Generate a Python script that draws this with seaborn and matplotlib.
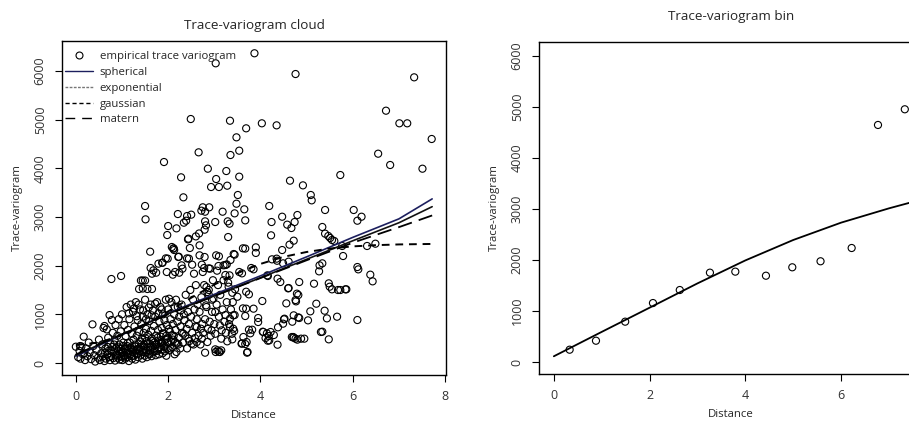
import numpy as np
import pandas as pd
import matplotlib
matplotlib.use("Agg")
import matplotlib.pyplot as plt
from matplotlib.lines import Line2D
import seaborn as sns

# ---- empirical trace-variogram cloud (distance, trace-variogram) ----
cloud_high = [
    (3.87, 6360), (3.03, 6154), (4.76, 5934), (7.33, 5866), (6.72, 5181), (7.01, 4922), (7.18, 4922), (7.71, 4600),
    (2.49, 5010), (3.34, 4975), (4.03, 4922), (4.35, 4880), (3.69, 4819), (3.48, 4634), (6.55, 4298), (2.66, 4326),
    (3.54, 4360), (3.35, 4271), (6.81, 4066), (7.51, 3990), (1.91, 4127), (2.86, 3990), (3.26, 3942), (2.28, 3813),
    (3.04, 3778), (3.54, 3826), (4.64, 3744), (4.92, 3648), (5.73, 3860), (2.93, 3614), (3.10, 3614), (3.28, 3641),
    (2.33, 3402), (3.51, 3450), (5.09, 3450), (5.11, 3340), (1.50, 3224), (2.75, 3197), (2.89, 3197), (3.48, 3271),
    (3.65, 3156), (4.19, 3224), (5.40, 3142), (6.02, 3142), (2.21, 3059), (2.41, 3018), (2.50, 3046), (2.72, 3128),
    (2.80, 3107), (3.18, 3107), (3.44, 3073), (4.47, 3004), (4.80, 3039), (6.19, 3004),
]
cloud_upper = [
    (1.51, 2950), (6.10, 2922), (2.34, 2881), (2.39, 2922), (2.00, 2813), (1.98, 2628), (2.18, 2765), (2.43, 2539),
    (2.12, 2355), (2.13, 2320), (1.61, 2286), (2.23, 2183), (2.41, 2149), (1.95, 2149), (1.87, 2060), (2.80, 2909),
    (2.82, 2827), (2.79, 2738), (2.60, 2600), (2.67, 2660), (2.68, 2416), (3.02, 2895), (3.29, 2909), (3.33, 2861),
    (3.30, 2587), (3.67, 2929), (4.23, 2622), (4.24, 2895), (4.58, 2841), (4.67, 2772), (4.74, 2895), (4.72, 2512),
    (4.63, 2430), (4.47, 2320), (5.34, 2793), (5.40, 2656), (5.47, 2608), (5.51, 2567), (5.55, 2526), (5.60, 2505),
    (5.77, 2403), (5.79, 2197), (6.31, 2403), (6.49, 2450), (3.62, 2355), (3.67, 2350), (3.90, 2375), (3.90, 2260),
    (3.42, 2238), (2.08, 2382), (2.11, 2348), (2.44, 2553), (2.47, 2362), (2.45, 2143), (2.22, 2177), (1.99, 2143),
    (2.68, 2211), (3.04, 2211), (3.44, 2225), (4.35, 2143), (4.25, 2129), (4.36, 2100), (4.49, 2047), (4.61, 2081),
    (5.34, 2047), (5.28, 2006), (3.10, 2190), (2.79, 2177), (3.24, 2012), (3.35, 2115), (1.79, 2040), (1.88, 2060),
    (2.29, 2006), (2.52, 2019), (2.73, 2019), (3.20, 2006), (3.27, 2025),
]
cloud_mid = [
    (6.10, 1971), (6.12, 1923), (6.38, 1814), (6.43, 1677), (1.62, 1951), (1.65, 1834), (1.68, 1903), (1.74, 1855),
    (1.97, 1869), (2.10, 1814), (2.15, 1869), (2.31, 1937), (2.24, 1855), (2.56, 1834), (2.78, 1951), (2.75, 1869),
    (2.91, 1937), (3.09, 1992), (3.33, 1800), (3.54, 1869), (3.80, 1951), (4.37, 1732), (4.43, 1663), (4.61, 1540),
    (4.84, 1663), (4.15, 1800), (4.77, 1266), (4.79, 1424), (4.04, 1273), (3.85, 1116), (3.69, 1116), (3.02, 1047),
    (2.98, 1321), (2.85, 1458), (2.82, 1184), (0.77, 1725), (0.98, 1787), (1.41, 1694), (1.45, 1694), (1.50, 1694),
    (1.37, 1520), (1.45, 1530), (1.55, 1520), (1.65, 1520), (2.88, 1944), (3.06, 1896), (3.24, 1807), (3.60, 1841),
    (3.85, 1924), (4.16, 1787), (4.60, 1533), (4.82, 1396), (4.76, 1293), (4.56, 1225), (3.75, 1410), (3.69, 1464),
    (3.45, 1513), (3.39, 1443), (3.50, 1361), (3.31, 1567), (2.83, 1560), (2.88, 1400), (2.95, 1300), (3.62, 1122),
    (5.48, 1636), (5.50, 1567), (5.55, 1513), (5.68, 1499), (5.73, 1499), (5.84, 1513), (5.39, 1074), (5.16, 1629),
    (5.27, 1882), (5.21, 1218), (5.08, 1061), (5.86, 1513),
]
cloud_low = [
    (4.72, 979), (4.84, 924), (3.95, 842), (3.67, 965), (3.41, 979), (3.34, 910), (3.24, 985), (3.44, 985), (3.95, 924),
    (5.44, 917), (5.66, 951), (6.10, 883), (5.34, 643), (5.48, 486), (5.03, 876), (5.31, 637),
    (4.68, 534), (4.71, 534), (4.76, 500), (4.88, 500), (4.95, 500), (4.52, 910), (4.49, 808), (4.37, 376), (4.06, 637),
    (4.11, 513), (4.18, 554), (4.22, 637), (4.19, 465), (3.82, 684), (3.75, 684), (3.70, 431), (3.72, 226), (3.59, 397),
    (3.63, 534), (3.41, 705), (3.43, 657), (3.34, 739), (3.39, 486), (3.28, 445), (3.12, 773), (3.16, 671), (3.07, 260),
    (3.12, 226), (3.03, 226), (2.85, 431), (2.73, 500), (2.62, 431), (2.58, 513), (2.94, 671), (2.71, 705), (2.62, 739),
    (2.44, 500), (2.51, 397), (2.33, 602), (2.15, 431), (2.08, 568), (2.18, 226), (2.04, 637), (1.97, 500), (1.86, 431),
    (4.05, 643), (4.14, 610), (4.29, 575), (4.16, 458), (4.38, 733), (4.51, 897), (4.69, 848), (4.82, 938), (4.72, 520),
    (4.80, 480), (3.60, 404), (3.67, 390), (3.71, 212), (3.02, 281), (3.10, 232), (3.15, 260), (2.80, 212), (3.78, 610),
]
cloud_dense = [
    (0.05, 120), (0.08, 250), (0.10, 90), (0.12, 340), (0.15, 180), (0.17, 541), (0.20, 60), (0.22, 300), (0.25, 140),
    (0.28, 420), (0.30, 220), (0.33, 80), (0.36, 794), (0.38, 350), (0.40, 160), (0.42, 30), (0.45, 270), (0.48, 110),
    (0.50, 480), (0.00, 335), (0.09, 349), (0.18, 200),
    (0.52, 60), (0.55, 200), (0.57, 380), (0.58, 130), (0.60, 720), (0.62, 760), (0.62, 40), (0.64, 300), (0.65, 90),
    (0.67, 691), (0.68, 180), (0.70, 520), (0.71, 250), (0.73, 985), (0.74, 60), (0.75, 400), (0.77, 140), (0.78, 883),
    (0.79, 330), (0.80, 620), (0.81, 100), (0.82, 220), (0.84, 460), (0.85, 50), (0.86, 780), (0.87, 170), (0.88, 300),
    (0.90, 560), (0.91, 110), (0.92, 240), (0.93, 900), (0.94, 380), (0.95, 70), (0.96, 190), (0.97, 650), (0.98, 290),
    (0.99, 130),
    (1.00, 1000), (1.01, 60), (1.02, 230), (1.03, 420), (1.04, 160), (1.05, 780), (1.06, 300), (1.07, 90), (1.08, 550),
    (1.09, 200), (1.10, 1150), (1.11, 350), (1.12, 120), (1.13, 680), (1.14, 260), (1.15, 40), (1.16, 900), (1.17, 420),
    (1.18, 180), (1.19, 1200), (1.20, 310), (1.21, 600), (1.22, 90), (1.23, 230), (1.24, 1050), (1.25, 480), (1.26, 150),
    (1.27, 750), (1.28, 340), (1.29, 70), (1.30, 1250), (1.31, 200), (1.32, 560), (1.33, 280), (1.34, 880), (1.35, 120),
    (1.36, 400), (1.37, 640), (1.38, 240), (1.39, 1100), (1.40, 330), (1.41, 170), (1.42, 800), (1.43, 500), (1.44, 90),
    (1.45, 950), (1.46, 270), (1.47, 620), (1.48, 380), (1.49, 150),
    (1.50, 1300), (1.51, 220), (1.52, 700), (1.53, 450), (1.54, 120), (1.55, 1000), (1.56, 320), (1.57, 580), (1.58, 190),
    (1.59, 860), (1.60, 400), (1.61, 260), (1.62, 1200), (1.63, 660), (1.64, 140), (1.65, 500), (1.66, 340), (1.67, 1080),
    (1.68, 220), (1.69, 760), (1.70, 420), (1.71, 300), (1.72, 950), (1.73, 160), (1.74, 560), (1.75, 380), (1.76, 1250),
    (1.77, 250), (1.78, 680), (1.79, 460), (1.80, 180), (1.81, 850), (1.82, 330), (1.83, 1150), (1.84, 540), (1.85, 280),
    (1.86, 720), (1.87, 400), (1.88, 200), (1.89, 1000), (1.90, 600), (1.91, 350), (1.92, 880), (1.93, 240), (1.94, 480),
    (1.95, 1300), (1.96, 150), (1.97, 780), (1.98, 420), (1.99, 300),
    (2.00, 1100), (2.02, 700), (2.03, 260), (2.05, 900), (2.06, 450), (2.07, 1250), (2.09, 330), (2.10, 800), (2.12, 560),
    (2.13, 1000), (2.14, 180), (2.16, 680), (2.17, 1300), (2.19, 400), (2.20, 850), (2.21, 1150), (2.23, 520), (2.24, 950),
    (2.26, 300), (2.27, 750), (2.29, 1200), (2.30, 620), (2.32, 420), (2.34, 1000), (2.35, 880), (2.37, 560), (2.38, 1400),
    (2.40, 700), (2.41, 300), (2.43, 1050), (2.45, 800), (2.46, 450), (2.48, 1500), (2.50, 950), (2.52, 620), (2.54, 1300),
    (2.55, 380), (2.57, 1100), (2.59, 750), (2.60, 1600),
    (2.62, 900), (2.64, 1200), (2.66, 560), (2.68, 1050), (2.70, 380), (2.72, 1350), (2.74, 800), (2.76, 620), (2.78, 1600),
    (2.80, 900), (2.83, 1150), (2.86, 700), (2.88, 1500), (2.90, 850), (2.92, 560), (2.95, 1050), (2.97, 1700), (3.00, 800),
    (3.02, 600), (3.05, 1200), (3.08, 1600), (3.10, 950), (3.13, 1400), (3.15, 500), (3.18, 1100), (3.20, 1700), (3.22, 850),
    (3.25, 620), (3.27, 1250), (3.30, 1650), (3.32, 800), (3.36, 1100), (3.38, 600), (3.40, 1250),
]
cloud_band = [
    (0.63, 210), (0.69, 330), (0.72, 120), (0.76, 260), (0.83, 380), (0.89, 150), (0.93, 320), (0.99, 230),
    (1.02, 350), (1.05, 130), (1.08, 280), (1.12, 410), (1.14, 200), (1.18, 320), (1.21, 140), (1.25, 260),
    (1.29, 380), (1.33, 180), (1.36, 290), (1.40, 440), (1.43, 230), (1.47, 340), (1.50, 520), (1.53, 260),
    (1.56, 410), (1.60, 180), (1.63, 330), (1.66, 450), (1.70, 240), (1.73, 380), (1.77, 520), (1.80, 300),
    (1.84, 420), (1.88, 610), (1.92, 330), (1.96, 560), (2.01, 410), (2.05, 300), (2.11, 480), (2.22, 380),
    (1.15, 1020), (1.26, 1120), (1.36, 1200), (1.46, 1080), (1.58, 1140), (1.72, 1220), (1.86, 1100), (2.02, 1320),
    (2.14, 1150), (2.27, 1080), (1.32, 960), (1.52, 900), (1.64, 980), (1.79, 1020),
]

# ---- fitted models on the cloud ----
model_dist = [0, 1, 2, 3, 4, 5, 6, 7, 7.72]
spherical = [140, 580, 1020, 1410, 1790, 2180, 2580, 2960, 3370]
exponential = [160, 590, 1010, 1380, 1750, 2130, 2510, 2880, 3210]
matern = [175, 590, 1000, 1375, 1745, 2110, 2470, 2790, 3030]
gauss_dist = [0, 0.5, 1, 1.5, 2, 2.5, 3, 3.5, 4, 4.5, 5, 5.5, 6, 6.5, 7, 7.72]
gaussian = [370, 420, 570, 790, 1060, 1340, 1610, 1845, 2035, 2180, 2280, 2350, 2395, 2420, 2435, 2445]

# ---- binned trace-variogram ----
bin_dist = [0.33, 0.88, 1.49, 2.07, 2.63, 3.26, 3.79, 4.43, 4.98, 5.57, 6.22, 6.77, 7.33]
bin_gamma = [241, 417, 790, 1155, 1410, 1750, 1770, 1690, 1855, 1973, 2233, 4643, 4950]
fit_dist = [0, 1, 2, 3, 4, 5, 6, 7, 7.71]
fit_gamma = [112, 590, 1064, 1540, 1990, 2390, 2730, 3010, 3190]

cloud = pd.DataFrame(cloud_high + cloud_upper + cloud_mid + cloud_low + cloud_dense + cloud_band,
                     columns=["dist", "gamma"])

sns.set_theme(style="white")
plt.rcParams["font.family"] = ["Open Sans", "DejaVu Sans"]
plt.rcParams["xtick.direction"] = "out"
plt.rcParams["ytick.direction"] = "out"

fig = plt.figure(figsize=(9.09, 4.24), dpi=100)
ax1 = fig.add_axes([62 / 909, 49 / 424, 384 / 909, 334 / 424])
ax2 = fig.add_axes([539 / 909, 50 / 424, 384 / 909, 332 / 424])

circ = dict(marker="o", facecolor="none", edgecolor="black", linewidth=0.8, s=26)

# left: cloud
sns.scatterplot(data=cloud, x="dist", y="gamma", ax=ax1, legend=False, **circ)
sns.lineplot(x=model_dist, y=spherical, ax=ax1, color="#1c1f5e", lw=1.2, estimator=None, sort=False)
sns.lineplot(x=model_dist, y=exponential, ax=ax1, color="#111111", lw=1.2, estimator=None, sort=False)
sns.lineplot(x=gauss_dist, y=gaussian, ax=ax1, color="black", lw=1.4, linestyle=(0, (4, 3)),
             estimator=None, sort=False)
sns.lineplot(x=model_dist, y=matern, ax=ax1, color="black", lw=1.3, linestyle=(0, (8, 4)),
             estimator=None, sort=False)

ax1.set_xlim(-0.30, 8.02)
ax1.set_ylim(-246, 6612)
ax1.set_title("Trace-variogram cloud", fontsize=9.7, pad=9)

handles = [
    Line2D([], [], marker="o", markerfacecolor="none", markeredgecolor="black", linestyle="none",
           markersize=5, markeredgewidth=0.8),
    Line2D([], [], color="#1c1f5e", lw=1.0),
    Line2D([], [], color="#777777", lw=1.0, linestyle=(0, (2, 1))),
    Line2D([], [], color="black", lw=1.0, linestyle=(0, (3, 2))),
    Line2D([], [], color="black", lw=1.0, linestyle=(0, (7, 5))),
]
labels = ["empirical trace variogram", "spherical", "exponential", "gaussian", "matern"]
ax1.legend(handles, labels, loc="upper left", bbox_to_anchor=(-0.012, 0.993), frameon=False,
           fontsize=8.2, handlelength=2.4, handletextpad=0.6, labelspacing=0.42,
           borderaxespad=0.25, borderpad=0.45)

# right: bins
sns.scatterplot(x=bin_dist, y=bin_gamma, ax=ax2, legend=False, **circ)
sns.lineplot(x=fit_dist, y=fit_gamma, ax=ax2, color="black", lw=1.3, estimator=None, sort=False)
ax2.set_xlim(-0.31, 7.71)
ax2.set_ylim(-235, 6268)
ax2.set_title("Trace-variogram bin", fontsize=9.7, pad=16)

for ax, xt in ((ax1, [0, 2, 4, 6, 8]), (ax2, [0, 2, 4, 6])):
    ax.set_xticks(xt)
    ax.set_yticks([0, 1000, 2000, 3000, 4000, 5000, 6000])
    ax.set_xticklabels([str(v) for v in xt])
    ax.set_yticklabels(["0", "1000", "2000", "3000", "4000", "5000", "6000"],
                       rotation=90, va="center")
    ax.tick_params(axis="both", length=5, width=0.8, color="black", labelsize=9,
                   labelcolor="#333333", pad=6, left=True, bottom=True)
    ax.set_xlabel("Distance", fontsize=8.2, labelpad=5)
    ax.set_ylabel("Trace-variogram", fontsize=8.2, labelpad=8)
    for sp in ax.spines.values():
        sp.set_visible(True)
        sp.set_color("black")
        sp.set_linewidth(1.0)

fig.savefig("out.png", dpi=100)
